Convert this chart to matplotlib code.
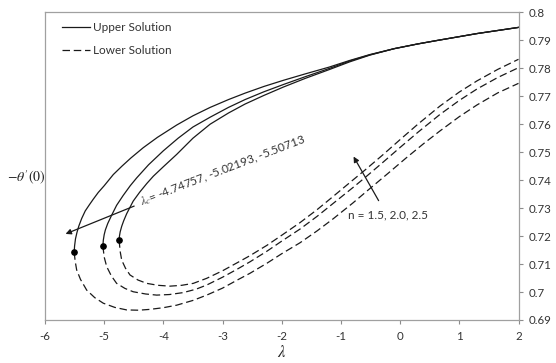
import matplotlib
matplotlib.use("Agg")
import matplotlib.pyplot as plt

# ---- data ----
lam_c = [-4.74757, -5.02193, -5.50713]
theta_c = [0.7185, 0.7164, 0.7142]

# upper solutions (inner, middle, outer)
up_inner_x = [-4.74757, -4.742, -4.73, -4.704, -4.67, -4.62, -4.51, -4.40, -4.28, -4.17, -4.00, -3.775, -3.50,
              -3.21, -2.90, -2.62, -2.30, -1.97, -1.60, -1.20, -0.85, -0.51, -0.10, 0.3, 0.617, 1.0, 1.3, 1.65, 2.0]
up_inner_y = [0.7185, 0.7200, 0.7215, 0.7235, 0.7255, 0.7280, 0.7325, 0.7357, 0.7388, 0.7414, 0.7448, 0.7492, 0.7550,
              0.7600, 0.7640, 0.7672, 0.7703, 0.7733, 0.7764, 0.7795, 0.7823, 0.7847, 0.7870, 0.7887, 0.7899, 0.7913, 0.7924, 0.7935, 0.7946]
up_mid_x = [-5.02193, -5.015, -5.00, -4.98, -4.94, -4.88, -4.79, -4.68, -4.56, -4.451, -4.25, -4.00, -3.75, -3.50,
            -3.21, -2.90, -2.62, -2.30, -1.97, -1.60, -1.20, -0.85, -0.51, -0.10, 0.3, 0.617, 1.0, 1.3, 1.65, 2.0]
up_mid_y = [0.7164, 0.7185, 0.7205, 0.7222, 0.7245, 0.7272, 0.7310, 0.7345, 0.7380, 0.7408, 0.7455, 0.7505, 0.7550, 0.7590,
            0.7625, 0.7660, 0.7688, 0.7716, 0.7742, 0.7770, 0.7799, 0.7826, 0.7848, 0.7870, 0.7887, 0.7899, 0.7913, 0.7924, 0.7935, 0.7946]
up_out_x = [-5.50713, -5.500, -5.485, -5.46, -5.43, -5.38, -5.32, -5.25, -5.184, -5.10, -5.00, -4.846, -4.70, -4.55,
            -4.34, -4.10, -3.775, -3.50, -3.21, -2.90, -2.62, -2.30, -1.97, -1.60, -1.20, -0.85, -0.51, -0.10, 0.3,
            0.617, 1.0, 1.3, 1.65, 2.0]
up_out_y = [0.7142, 0.7165, 0.7190, 0.7213, 0.7235, 0.7263, 0.7290, 0.7312, 0.7332, 0.7356, 0.7380, 0.7420, 0.7450, 0.7479,
            0.7516, 0.7553, 0.7597, 0.7630, 0.7660, 0.7688, 0.7711, 0.7735, 0.7757, 0.7780, 0.7804, 0.7828, 0.7849, 0.7870, 0.7887,
            0.7899, 0.7913, 0.7924, 0.7935, 0.7946]

# lower solutions (inner, middle, outer)
lo_inner_x = [-4.74757, -4.73, -4.704, -4.64, -4.564, -4.43, -4.282, -4.09, -3.888, -3.69, -3.494, -3.268, -3.0, -2.75,
              -2.537, -2.25, -2.0, -1.692, -1.4, -1.13, -0.8, -0.594, -0.3, 0.0, 0.3, 0.674, 1.0, 1.3, 1.65, 2.0]
lo_inner_y = [0.7185, 0.7145, 0.7114, 0.7085, 0.7061, 0.7043, 0.7031, 0.7024, 0.7021, 0.7024, 0.7031, 0.7049, 0.7076, 0.7105,
              0.7130, 0.7167, 0.7203, 0.7248, 0.7295, 0.7342, 0.7400, 0.7436, 0.7489, 0.7545, 0.7600, 0.7665, 0.7715, 0.7755, 0.7796, 0.7832]
lo_mid_x = [-5.02193, -5.00, -4.958, -4.88, -4.79, -4.65, -4.51, -4.30, -4.113, -3.9, -3.664, -3.45, -3.268, -3.0, -2.75,
            -2.537, -2.25, -2.0, -1.692, -1.4, -1.13, -0.8, -0.594, -0.3, 0.0, 0.3, 0.674, 1.0, 1.3, 1.65, 2.0]
lo_mid_y = [0.7164, 0.7125, 0.7091, 0.7058, 0.7031, 0.7013, 0.7001, 0.6993, 0.6989, 0.6991, 0.6998, 0.7010, 0.7025, 0.7053, 0.7082,
            0.7108, 0.7146, 0.7182, 0.7225, 0.7271, 0.7317, 0.7373, 0.7409, 0.7462, 0.7517, 0.7571, 0.7635, 0.7685, 0.7726, 0.7767, 0.7802]
lo_out_x = [-5.50713, -5.49, -5.465, -5.40, -5.296, -5.16, -5.015, -4.82, -4.62, -4.42, -4.226, -4.0, -3.775, -3.5, -3.268,
            -3.0, -2.75, -2.537, -2.25, -2.0, -1.692, -1.4, -1.13, -0.8, -0.51, -0.2, 0.1, 0.4, 0.674, 1.0, 1.3, 1.65, 2.0]
lo_out_y = [0.7142, 0.7110, 0.7079, 0.7045, 0.7007, 0.6980, 0.6960, 0.6945, 0.6936, 0.6935, 0.6938, 0.6944, 0.6953, 0.6970, 0.6989,
            0.7014, 0.7043, 0.7067, 0.7103, 0.7137, 0.7176, 0.7219, 0.7262, 0.7318, 0.7370, 0.7425, 0.7479, 0.7531, 0.7576, 0.7627,
            0.7669, 0.7712, 0.7746]

x_ticks = [-6, -5, -4, -3, -2, -1, 0, 1, 2]
y_ticks = [0.69, 0.70, 0.71, 0.72, 0.73, 0.74, 0.75, 0.76, 0.77, 0.78, 0.79, 0.80]
y_tick_labels = ["0.69", "0.7", "0.71", "0.72", "0.73", "0.74", "0.75", "0.76", "0.77", "0.78", "0.79", "0.8"]

plt.rcParams['font.family'] = ['Lato', 'DejaVu Sans']
plt.rcParams['mathtext.fontset'] = 'stix'

fig = plt.figure(figsize=(5.56, 3.63), dpi=100)
ax = fig.add_axes([45/556, 1-320/363, (518.5-45)/556, (320-12.3)/363])

lc = '#1a1a1a'
lw = 0.9
dash = (0, (6, 3))
ups = [(up_inner_x, up_inner_y), (up_mid_x, up_mid_y), (up_out_x, up_out_y)]
los = [(lo_inner_x, lo_inner_y), (lo_mid_x, lo_mid_y), (lo_out_x, lo_out_y)]
for i, (x, y) in enumerate(ups):
    ax.plot(x, y, color=lc, lw=lw, label='Upper Solution' if i == 0 else None)
for i, (x, y) in enumerate(los):
    ax.plot(x, y, color=lc, lw=lw, linestyle=dash, label='Lower Solution' if i == 0 else None)
ax.plot(lam_c, theta_c, 'o', color='black', ms=3.8, zorder=5)

ax.set_xlim(-6, 2)
ax.set_ylim(0.69, 0.80)
ax.set_xticks(x_ticks)
ax.set_xticklabels([str(t) for t in x_ticks])
ax.set_yticks(y_ticks)
ax.set_yticklabels(y_tick_labels)
ax.yaxis.tick_right()
ax.tick_params(axis='both', direction='out', length=3, width=0.8, color='#8c8c8c',
               labelsize=8.3, labelcolor='#333333')
ax.tick_params(axis='x', pad=5)
ax.tick_params(axis='y', pad=4)
for s in ax.spines.values():
    s.set_color('#a0a0a0')
    s.set_linewidth(0.9)

leg = ax.legend(loc='upper left', frameon=False, fontsize=8.5, handlelength=2.4,
                handletextpad=0.3, labelspacing=0.95, borderaxespad=0.2,
                bbox_to_anchor=(0.02, 0.99))
for t in leg.get_texts():
    t.set_color('#333333')

# axis labels
fig.text(26/556, 1-178/363, r"$-\theta'(0)$", fontsize=10, ha='center', va='center', color='#222222')
fig.text(282/556, 1-352/363, r"$\lambda$", fontsize=12, ha='center', va='center', color='#222222')

# annotations
ax.annotate('', xy=(-5.696, 0.7204), xytext=(-4.45, 0.7311),
            arrowprops=dict(arrowstyle='-|>', color=lc, lw=0.9, mutation_scale=8))
ax.text(-4.38, 0.7318, r"$\lambda_c$= -4.74757, -5.02193, -5.50713", fontsize=8.5,
        rotation=21, rotation_mode='anchor', ha='left', va='center', color='#333333')
ax.annotate('', xy=(-0.81, 0.7493), xytext=(-0.34, 0.7318),
            arrowprops=dict(arrowstyle='-|>', color=lc, lw=0.9, mutation_scale=8))
ax.text(-0.88, 0.7276, "n = 1.5, 2.0, 2.5", fontsize=8.5, ha='left', va='center', color='#333333')

fig.savefig('out.png', dpi=100)
